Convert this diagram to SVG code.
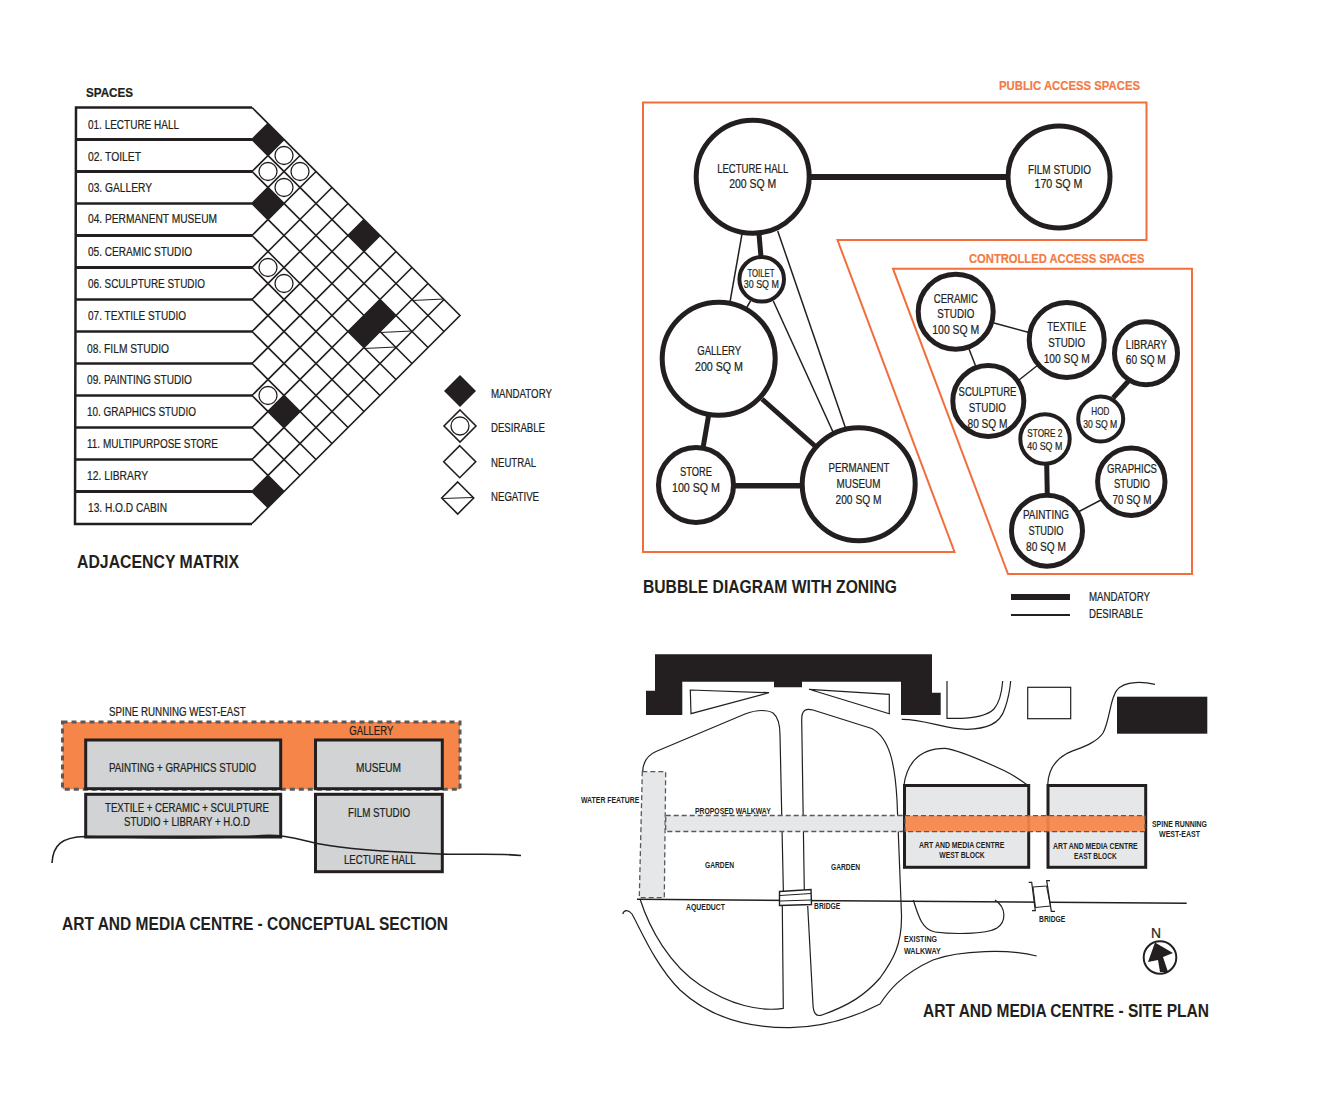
<svg xmlns="http://www.w3.org/2000/svg" xmlns:xlink="http://www.w3.org/1999/xlink" width="1338" height="1098" viewBox="0 0 1338 1098">
<style>
text{font-family:"Liberation Sans",Arial,sans-serif;fill:#231f20;font-size:12px;stroke:#231f20;stroke-width:.22}
.t{font-size:12.5px}
.m{text-anchor:middle}
.s{font-size:10.5px}
.xs{font-size:8.5px;font-weight:bold;stroke:none}
.h{font-size:19px;font-weight:bold;stroke:none}
.o{fill:#f47b43;font-weight:bold;font-size:13.5px;stroke:#f47b43}
.b{fill:#fff;stroke:#231f20;stroke-width:5}
.thick{stroke:#231f20;stroke-width:5;fill:none}
.thin{stroke:#231f20;stroke-width:1.5;fill:none}
.zone{fill:none;stroke:#f26f3c;stroke-width:2}
.grid{fill:none;stroke:#231f20;stroke-width:1.6}
.div{stroke:#231f20;stroke-width:2.5}
.blk{fill:#231f20}
.cir{fill:#fff;stroke:#231f20;stroke-width:1.3}
.sec{fill:#d1d3d4;stroke:#231f20;stroke-width:3}
.site{fill:#e6e7e8;stroke:#231f20;stroke-width:3}
.ln{fill:none;stroke:#231f20;stroke-width:1.2}
.dash{stroke:#58595b;stroke-width:1.3;stroke-dasharray:5 3;fill:#e6e7e8}
</style>
<defs>
<polygon id="d" points="0,-16 16,0 0,16 -16,0"/>
<circle id="c" r="9"/>
</defs>

<g id="matrix">
<text x="86" y="97.3" textLength="47" lengthAdjust="spacingAndGlyphs" style="font-size:13px;font-weight:bold">SPACES</text>
<path id="row-outline" class="div" fill="none" d="M252,107.5H76L75,524H252"/>
<g id="row-01"><line class="div" x1="76" y1="139.5" x2="252" y2="139.5" style="stroke-width:3"/><text class="t" x="88" y="129.3" textLength="91" lengthAdjust="spacingAndGlyphs">01. LECTURE HALL</text></g>
<g id="row-02"><line class="div" x1="76" y1="171.5" x2="252" y2="171.5" style="stroke-width:3"/><text class="t" x="88" y="160.5" textLength="53" lengthAdjust="spacingAndGlyphs">02. TOILET</text></g>
<g id="row-03"><line class="div" x1="76" y1="203.5" x2="252" y2="203.5"/><text class="t" x="88" y="192" textLength="64" lengthAdjust="spacingAndGlyphs">03. GALLERY</text></g>
<g id="row-04"><line class="div" x1="76" y1="235.5" x2="252" y2="235.5" style="stroke-width:3"/><text class="t" x="88" y="223" textLength="129" lengthAdjust="spacingAndGlyphs">04. PERMANENT MUSEUM</text></g>
<g id="row-05"><line class="div" x1="76" y1="267.5" x2="252" y2="267.5" style="stroke-width:3"/><text class="t" x="88" y="256" textLength="104" lengthAdjust="spacingAndGlyphs">05. CERAMIC STUDIO</text></g>
<g id="row-06"><line class="div" x1="76" y1="299.5" x2="252" y2="299.5"/><text class="t" x="88" y="287.5" textLength="117" lengthAdjust="spacingAndGlyphs">06. SCULPTURE STUDIO</text></g>
<g id="row-07"><line class="div" x1="76" y1="331.5" x2="252" y2="331.5"/><text class="t" x="88" y="320" textLength="98" lengthAdjust="spacingAndGlyphs">07. TEXTILE STUDIO</text></g>
<g id="row-08"><line class="div" x1="76" y1="363.5" x2="252" y2="363.5"/><text class="t" x="87" y="353" textLength="82" lengthAdjust="spacingAndGlyphs">08. FILM STUDIO</text></g>
<g id="row-09"><line class="div" x1="76" y1="395.5" x2="252" y2="395.5"/><text class="t" x="87" y="384" textLength="105" lengthAdjust="spacingAndGlyphs">09. PAINTING STUDIO</text></g>
<g id="row-10"><line class="div" x1="76" y1="427.5" x2="252" y2="427.5"/><text class="t" x="87" y="416" textLength="109" lengthAdjust="spacingAndGlyphs">10. GRAPHICS STUDIO</text></g>
<g id="row-11"><line class="div" x1="76" y1="459.5" x2="252" y2="459.5"/><text class="t" x="87" y="448" textLength="131" lengthAdjust="spacingAndGlyphs">11. MULTIPURPOSE STORE</text></g>
<g id="row-12"><line class="div" x1="76" y1="491.5" x2="252" y2="491.5" style="stroke-width:3"/><text class="t" x="87" y="480" textLength="61" lengthAdjust="spacingAndGlyphs">12. LIBRARY</text></g>
<g id="row-13"><text class="t" x="88" y="512" textLength="79" lengthAdjust="spacingAndGlyphs">13. H.O.D CABIN</text></g>

<path id="lattice" class="grid" d="M252,107.5L460,315.5L252,523.5
M252,139.5L444,331.5M252,171.5L428,347.5M252,203.5L412,363.5M252,235.5L396,379.5M252,267.5L380,395.5M252,299.5L364,411.5M252,331.5L348,427.5M252,363.5L332,443.5M252,395.5L316,459.5M252,427.5L300,475.5M252,459.5L284,491.5M252,491.5L268,507.5
M252,139.5L268,123.5M252,171.5L284,139.5M252,203.5L300,155.5M252,235.5L316,171.5M252,267.5L332,187.5M252,299.5L348,203.5M252,331.5L364,219.5M252,363.5L380,235.5M252,395.5L396,251.5M252,427.5L412,267.5M252,459.5L428,283.5M252,491.5L444,299.5"/>
<g id="mandatory-cells" class="blk">
<use href="#d" x="268" y="139.5"/><use href="#d" x="268" y="203.5"/><use href="#d" x="364" y="235.5"/><use href="#d" x="380" y="315.5"/><use href="#d" x="364" y="331.5"/><use href="#d" x="284" y="411.5"/><use href="#d" x="268" y="491.5"/>
</g>
<g id="desirable-cells" class="cir">
<use href="#c" x="284" y="155.5"/><use href="#c" x="268" y="171.5"/><use href="#c" x="300" y="171.5"/><use href="#c" x="284" y="187.5"/><use href="#c" x="268" y="267.5"/><use href="#c" x="284" y="283.5"/><use href="#c" x="268" y="395.5"/>
</g>
<path id="negative-cells" class="ln" d="M412,300.5L444,299M380,332.5L412,331M364,348.5L396,347"/>
<text class="h" x="77" y="568" textLength="162" lengthAdjust="spacingAndGlyphs">ADJACENCY MATRIX</text>
</g>

<g id="matrix-legend">
<g id="leg-mandatory"><use href="#d" x="460" y="391" class="blk"/><text x="491" y="398" textLength="61" lengthAdjust="spacingAndGlyphs">MANDATORY</text></g>
<g id="leg-desirable"><use href="#d" x="460" y="426" class="grid"/><use href="#c" x="460" y="426" class="cir"/><text x="491" y="432" textLength="54" lengthAdjust="spacingAndGlyphs">DESIRABLE</text></g>
<g id="leg-neutral"><use href="#d" x="459.7" y="461.7" class="grid"/><text x="491" y="467" textLength="45" lengthAdjust="spacingAndGlyphs">NEUTRAL</text></g>
<g id="leg-negative"><use href="#d" x="457.7" y="498" class="grid"/><line class="ln" x1="442" y1="498.5" x2="473" y2="497.5"/><text x="491" y="501" textLength="48" lengthAdjust="spacingAndGlyphs">NEGATIVE</text></g>
</g>

<g id="zones">
<polygon id="zone-public" class="zone" points="643,102.5 1146.5,102.5 1146.5,240 837.5,240 954.5,552 643,552"/>
<polygon id="zone-controlled" class="zone" points="893,268.7 1192,268.7 1192,574 1008,574"/>
<text class="o" x="999" y="90" textLength="141" lengthAdjust="spacingAndGlyphs">PUBLIC ACCESS SPACES</text>
<text class="o" x="969" y="262.7" textLength="175.5" lengthAdjust="spacingAndGlyphs">CONTROLLED ACCESS SPACES</text>
</g>

<g id="connectors">
<line class="thick" x1="808" y1="177" x2="1006" y2="177" style="stroke-width:6"/>
<line class="thick" x1="759" y1="234" x2="761" y2="257"/>
<line class="thin" x1="742" y1="234" x2="730" y2="302"/>
<line class="thin" x1="777.7" y1="231" x2="845.5" y2="428"/>
<line class="thin" x1="773.3" y1="301" x2="833" y2="432"/>
<line class="thin" x1="750.5" y1="301" x2="747" y2="307"/>
<line class="thick" x1="762" y1="399" x2="815" y2="446"/>
<line class="thick" x1="708.5" y1="416" x2="703" y2="448"/>
<line class="thick" x1="733" y1="485.7" x2="803" y2="485.7" style="stroke-width:5.5"/>
<line class="thin" x1="994" y1="323" x2="1029" y2="332.5"/>
<line class="thin" x1="969" y1="349" x2="976" y2="367"/>
<line class="thin" x1="1019" y1="380" x2="1038" y2="365"/>
<line class="thick" x1="1128.5" y1="381" x2="1113" y2="398"/>
<line class="thick" x1="1046.7" y1="464" x2="1047.3" y2="495"/>
<line class="thin" x1="1101" y1="500" x2="1079" y2="511.5"/>
</g>

<g id="n-lecture"><circle class="b" cx="752.7" cy="176.7" r="56.5"/><text class="m" x="752.7" y="173.3" textLength="71" lengthAdjust="spacingAndGlyphs">LECTURE HALL</text><text class="m" x="752.7" y="188" textLength="47" lengthAdjust="spacingAndGlyphs">200 SQ M</text></g>
<g id="n-film"><circle class="b" cx="1059" cy="177" r="51"/><text class="m" x="1059.5" y="174" textLength="63" lengthAdjust="spacingAndGlyphs">FILM STUDIO</text><text class="m" x="1058.5" y="188" textLength="48" lengthAdjust="spacingAndGlyphs">170 SQ M</text></g>
<g id="n-toilet"><circle class="b" cx="761.7" cy="279.3" r="22.3" style="stroke-width:4"/><text class="m s" x="761" y="276.7" textLength="27" lengthAdjust="spacingAndGlyphs">TOILET</text><text class="m s" x="761.3" y="288.3" textLength="35" lengthAdjust="spacingAndGlyphs">30 SQ M</text></g>
<g id="n-gallery"><circle class="b" cx="718.7" cy="358.7" r="56.5"/><text class="m" x="719.2" y="355" textLength="44" lengthAdjust="spacingAndGlyphs">GALLERY</text><text class="m" x="719" y="371" textLength="48" lengthAdjust="spacingAndGlyphs">200 SQ M</text></g>
<g id="n-store"><circle class="b" cx="696" cy="485" r="37.5"/><text class="m" x="696" y="476" textLength="32" lengthAdjust="spacingAndGlyphs">STORE</text><text class="m" x="696" y="492" textLength="48" lengthAdjust="spacingAndGlyphs">100 SQ M</text></g>
<g id="n-museum"><circle class="b" cx="858.7" cy="484.3" r="56.5"/><text class="m" x="859" y="472.3" textLength="61" lengthAdjust="spacingAndGlyphs">PERMANENT</text><text class="m" x="858.5" y="488.3" textLength="44" lengthAdjust="spacingAndGlyphs">MUSEUM</text><text class="m" x="858.5" y="504.3" textLength="46" lengthAdjust="spacingAndGlyphs">200 SQ M</text></g>
<g id="n-ceramic"><circle class="b" cx="955.7" cy="311.7" r="37.5"/><text class="m" x="955.8" y="303.3" textLength="44" lengthAdjust="spacingAndGlyphs">CERAMIC</text><text class="m" x="955.8" y="318.3" textLength="37" lengthAdjust="spacingAndGlyphs">STUDIO</text><text class="m" x="955.8" y="334.3" textLength="47" lengthAdjust="spacingAndGlyphs">100 SQ M</text></g>
<g id="n-textile"><circle class="b" cx="1066.7" cy="340" r="37.5"/><text class="m" x="1066.7" y="331.3" textLength="39" lengthAdjust="spacingAndGlyphs">TEXTILE</text><text class="m" x="1066.7" y="347.3" textLength="37" lengthAdjust="spacingAndGlyphs">STUDIO</text><text class="m" x="1066.7" y="363.3" textLength="46" lengthAdjust="spacingAndGlyphs">100 SQ M</text></g>
<g id="n-library"><circle class="b" cx="1146" cy="353.3" r="31.5"/><text class="m" x="1146.3" y="349.3" textLength="41" lengthAdjust="spacingAndGlyphs">LIBRARY</text><text class="m" x="1145.8" y="364.3" textLength="40" lengthAdjust="spacingAndGlyphs">60 SQ M</text></g>
<g id="n-sculpture"><circle class="b" cx="988.3" cy="401" r="35.5"/><text class="m" x="987.5" y="396.3" textLength="58" lengthAdjust="spacingAndGlyphs">SCULPTURE</text><text class="m" x="987.3" y="412.3" textLength="37" lengthAdjust="spacingAndGlyphs">STUDIO</text><text class="m" x="987.5" y="428.3" textLength="40" lengthAdjust="spacingAndGlyphs">80 SQ M</text></g>
<g id="n-hod"><circle class="b" cx="1100.7" cy="419" r="22.5" style="stroke-width:4"/><text class="m s" x="1100.3" y="415.3" textLength="18" lengthAdjust="spacingAndGlyphs">HOD</text><text class="m s" x="1100.3" y="428.3" textLength="34" lengthAdjust="spacingAndGlyphs">30 SQ M</text></g>
<g id="n-store2"><circle class="b" cx="1045" cy="439" r="24.7" style="stroke-width:4"/><text class="m s" x="1044.8" y="437.3" textLength="35" lengthAdjust="spacingAndGlyphs">STORE 2</text><text class="m s" x="1044.8" y="450" textLength="35" lengthAdjust="spacingAndGlyphs">40 SQ M</text></g>
<g id="n-graphics"><circle class="b" cx="1131.3" cy="481.7" r="33.7"/><text class="m" x="1132" y="473.3" textLength="50" lengthAdjust="spacingAndGlyphs">GRAPHICS</text><text class="m" x="1132" y="488.3" textLength="36" lengthAdjust="spacingAndGlyphs">STUDIO</text><text class="m" x="1132" y="504.3" textLength="39" lengthAdjust="spacingAndGlyphs">70 SQ M</text></g>
<g id="n-painting"><circle class="b" cx="1047" cy="530.7" r="35.5"/><text class="m" x="1046" y="519.3" textLength="46" lengthAdjust="spacingAndGlyphs">PAINTING</text><text class="m" x="1046" y="535.3" textLength="35" lengthAdjust="spacingAndGlyphs">STUDIO</text><text class="m" x="1046" y="551.3" textLength="40" lengthAdjust="spacingAndGlyphs">80 SQ M</text></g>

<g id="bubble-legend">
<text class="h" x="643" y="593.3" textLength="254" lengthAdjust="spacingAndGlyphs">BUBBLE DIAGRAM WITH ZONING</text>
<line x1="1011" y1="597" x2="1070" y2="597" stroke="#231f20" stroke-width="6"/>
<line x1="1011" y1="615" x2="1070" y2="615" stroke="#231f20" stroke-width="2"/>
<text x="1089" y="601" textLength="61" lengthAdjust="spacingAndGlyphs">MANDATORY</text>
<text x="1089" y="618" textLength="54" lengthAdjust="spacingAndGlyphs">DESIRABLE</text>
</g>

<g id="section">
<text x="109" y="715.7" textLength="136.7" lengthAdjust="spacingAndGlyphs">SPINE RUNNING WEST-EAST</text>
<rect id="spine" x="62.5" y="722" width="397.5" height="67.3" fill="#f58549" stroke="#58595b" stroke-width="3" stroke-dasharray="5 4"/>
<text x="349.3" y="734.7" textLength="44" lengthAdjust="spacingAndGlyphs">GALLERY</text>
<g id="sec-painting"><rect class="sec" x="85.7" y="740" width="195" height="48.7"/><text x="109" y="772" textLength="147" lengthAdjust="spacingAndGlyphs">PAINTING + GRAPHICS STUDIO</text></g>
<g id="sec-museum"><rect class="sec" x="315.5" y="740" width="126.8" height="48.7"/><text x="356" y="772" textLength="45" lengthAdjust="spacingAndGlyphs">MUSEUM</text></g>
<g id="sec-textile"><rect class="sec" x="85.7" y="794.3" width="195" height="42.7"/><text x="105" y="812" textLength="164" lengthAdjust="spacingAndGlyphs">TEXTILE + CERAMIC + SCULPTURE</text><text x="124" y="826" textLength="126" lengthAdjust="spacingAndGlyphs">STUDIO + LIBRARY + H.O.D</text></g>
<g id="sec-film"><rect class="sec" x="315.5" y="794.3" width="126.8" height="77.4"/><text x="348" y="817" textLength="62" lengthAdjust="spacingAndGlyphs">FILM STUDIO</text><text x="344" y="864" textLength="71.7" lengthAdjust="spacingAndGlyphs">LECTURE HALL</text></g>
<path id="ground" fill="none" stroke="#231f20" stroke-width="1.6" d="M52,863C53,845 62,837 85,836.5C150,838 230,839 262,835.5C285,834 300,840 320,844C345,849 390,852 440,854C470,855 500,853 521,855.5"/>
<text class="h" x="62" y="930" textLength="386" lengthAdjust="spacingAndGlyphs">ART AND MEDIA CENTRE - CONCEPTUAL SECTION</text>
</g>

<g id="site">
<polygon class="blk" points="655,654.3 932,654.3 932,692.7 940.7,692.7 940.7,715 901,715 901,681.7 802,681.7 802,687.3 774,687.3 774,681.7 682.3,681.7 682.3,715 646,715 646,690.7 655,690.7"/>
<polygon class="ln" points="690.3,690 769,692.7 691,713.7"/>
<polygon class="ln" points="809,689.3 889.3,694.3 889.3,713.7"/>
<path class="ln" d="M947,681V718.3C965,719 985,718 994,709C1000,702 1002,690 1002.7,681"/>
<path class="ln" d="M901.7,719.3C925,719 945,729.5 967,729.3C985,729 1000,725 1005,708C1009,697 1010,688 1010.7,681"/>
<rect class="ln" x="1027.7" y="687.3" width="43" height="31.4"/>
<rect class="blk" x="1117" y="696.7" width="90.3" height="37"/>
<path class="ln" d="M1155,684.3C1145,682 1125,680 1117,690C1110,698 1110,720 1103,733C1095,745 1075,749 1066,754C1052,762 1048,775 1047.7,785"/>
<path class="ln" d="M904,785.3C906,768 916,748 945,748.3C960,750 990,764 1005,771C1015,776 1022,781 1027.3,785"/>

<path class="ln" d="M642.7,771.7C643,762 648,755 656,751.5L745,714C758,709 768,710 773,713C778,717 780,725 780,735L783.5,897"/>
<path class="ln" d="M782.3,906L783.3,1008.3C760,1012 730,1005 700,985C670,965 650,930 640,899"/>
<path class="ln" d="M804.3,890L801.7,720C801.5,710 806,708 813,710L871.7,728.5C890,738 895,765 897,800L901.5,915C902,945 893,960 880,978C865,995 850,1005 822,1015C816,1017 813.5,1013 813,1005L807.7,906"/>
<path class="ln" d="M622.7,914C624,910 628,909 632,914C640,928 655,965 680,990C710,1018 750,1028 790,1027.7C825,1027 855,1017 880,1004C888,992 900,975 933,960C960,950 1010,949 1036.7,956"/>
<path class="ln" d="M913.3,900C918,915 922,930 935,932C950,934 985,935 997,928C1006,922 1007,908 995,900"/>
<line x1="637" y1="899.3" x2="1186.7" y2="903.3" stroke="#231f20" stroke-width="1.6"/>

<polygon class="dash" points="642.3,771.7 665.7,771.7 664.3,897.7 639.3,897.7"/>
<rect class="dash" x="665.7" y="815.5" width="239.3" height="16"/>

<g id="site-west"><rect class="site" x="904.5" y="785.5" width="124.2" height="81.8"/><text class="xs" x="919" y="848" textLength="85.3" lengthAdjust="spacingAndGlyphs">ART AND MEDIA CENTRE</text><text class="xs" x="939.3" y="857.7" textLength="45.4" lengthAdjust="spacingAndGlyphs">WEST BLOCK</text></g>
<g id="site-east"><rect class="site" x="1048" y="785.5" width="97.7" height="81.8"/><text class="xs" x="1053" y="849" textLength="84.7" lengthAdjust="spacingAndGlyphs">ART AND MEDIA CENTRE</text><text class="xs" x="1074" y="859" textLength="42.7" lengthAdjust="spacingAndGlyphs">EAST BLOCK</text></g>
<rect id="site-spine" x="905" y="815.7" width="240" height="16" fill="#f58549" fill-opacity="0.93" stroke="#58595b" stroke-width="1.3" stroke-dasharray="5 3"/>

<g id="bridge-1"><polygon points="779.5,891.5 811,889.5 811.5,904.5 779.5,905.5" fill="#fff" stroke="#231f20" stroke-width="1.4"/><path class="ln" d="M780,895.5L811,893.5M780,901L811.5,900"/></g>
<g id="bridge-2"><polygon points="1033,887 1046.5,886 1050.5,906 1035.5,907.5" fill="#fff" stroke="#231f20" stroke-width="1"/><path class="ln" d="M1028.7,882.3H1031.7L1035.3,910.7H1032M1050,880.7H1046.7L1051.3,911.3H1055"/></g>

<g id="compass"><circle cx="1160" cy="957.5" r="16.3" fill="#fff" stroke="#231f20" stroke-width="2"/><polygon class="blk" points="1155,942.5 1173,953 1163,957 1168,972 1160,972 1158,960 1148,962"/><text x="1151" y="938" style="font-size:14px" textLength="10" lengthAdjust="spacingAndGlyphs">N</text></g>

<text class="xs" x="581" y="803.3" textLength="58.3" lengthAdjust="spacingAndGlyphs">WATER FEATURE</text>
<text class="xs" x="695" y="814" textLength="75.7" lengthAdjust="spacingAndGlyphs">PROPOSED WALKWAY</text>
<text class="xs" x="705" y="868" textLength="29" lengthAdjust="spacingAndGlyphs">GARDEN</text>
<text class="xs" x="831" y="870" textLength="29" lengthAdjust="spacingAndGlyphs">GARDEN</text>
<text class="xs" x="686" y="910" textLength="39" lengthAdjust="spacingAndGlyphs">AQUEDUCT</text>
<text class="xs" x="814" y="909" textLength="26.3" lengthAdjust="spacingAndGlyphs">BRIDGE</text>
<text class="xs" x="1039" y="921.7" textLength="26.3" lengthAdjust="spacingAndGlyphs">BRIDGE</text>
<text class="xs" x="1152" y="827" textLength="55" lengthAdjust="spacingAndGlyphs">SPINE RUNNING</text>
<text class="xs" x="1159" y="836.7" textLength="41" lengthAdjust="spacingAndGlyphs">WEST-EAST</text>
<text class="xs" x="904" y="942" textLength="33" lengthAdjust="spacingAndGlyphs">EXISTING</text>
<text class="xs" x="904" y="953.7" textLength="36.7" lengthAdjust="spacingAndGlyphs">WALKWAY</text>
<text class="h" x="923" y="1017" textLength="286" lengthAdjust="spacingAndGlyphs">ART AND MEDIA CENTRE - SITE PLAN</text>
</g>
</svg>
